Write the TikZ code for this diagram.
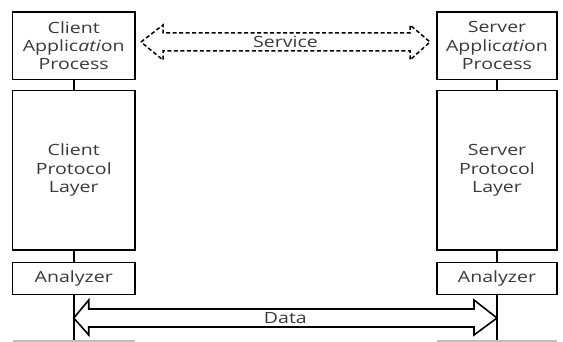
\documentclass[tikz,border=0pt]{standalone}
\usepackage{fontspec}
\setmainfont{Open Sans}[FakeStretch=1.26]
\usetikzlibrary{calc}
\definecolor{txt}{HTML}{3A3A3A}
\begin{document}
\begin{tikzpicture}[x=1pt,y=-1pt,
  box/.style={draw, line width=1.8pt, fill=white, text=txt, align=center,
    inner sep=0pt, font=\fontsize{15.5}{18.3}\selectfont},
  link/.style={line width=1.5pt},
  lbl/.style={text=txt, inner sep=1pt, font=\fontsize{15.5}{18.3}\selectfont},
  fatarrow/.style={line width=1.6pt, line join=miter},
  dasharrow/.style={line width=1.5pt, dash pattern=on 4pt off 2.5pt, line join=miter},
  cut/.style={draw=black!25, line width=1.4pt}]
\useasboundingbox (0,0) rectangle (563,342);

% client column
\node[box, minimum width=122.5pt, minimum height=67.5pt] (capp) at (73.75,45.75)
  {Client\\Applic\textit{ati}on\\Process};
\node[box, minimum width=122.5pt, minimum height=159.5pt] (cpro) at (73.75,170.25)
  {Client\\Protocol\\Layer};
\node[box, minimum width=122.5pt, minimum height=32pt] (cana) at (73.75,278.5)
  {Analyzer};

% server column
\node[box, minimum width=120.5pt, minimum height=67.5pt] (sapp) at (497,45.75)
  {Server\\Applic\textit{ati}on\\Process};
\node[box, minimum width=120.5pt, minimum height=159.5pt] (spro) at (497,170.25)
  {Server\\Protocol\\Layer};
\node[box, minimum width=120.5pt, minimum height=32pt] (sana) at (497,278.5)
  {Analyzer};

% vertical links
\draw[link] (capp.south) -- (cpro.north);
\draw[link] (cpro.south) -- (cana.north);
\draw[link] (sapp.south) -- (spro.north);
\draw[link] (spro.south) -- (sana.north);
\coordinate (cend) at (cana.south |- 0,342);
\coordinate (send) at (sana.south |- 0,342);
\draw[link] (cana.south) -- (cend);
\draw[link] (sana.south) -- (send);

% edges of the boxes below
\draw[cut] (12.5,341) -- (135,341);
\draw[cut] (436.75,341) -- (557.25,341);

% data arrow between the two lines
\coordinate (dL) at (cana.south |- 0,318);
\coordinate (dR) at (sana.south |- 0,318);
\draw[fatarrow] (dL) -- ++(15,-18) -- ++(0,9) -- ($(dR)+(-23,-9)$) -- ++(0,-9)
  -- (dR) -- ++(-23,17) -- ++(0,-8) -- ($(dL)+(15,9)$) -- ++(0,8) -- cycle;
\node[lbl] (data) at ($(dL)!0.5!(dR)$) {Data};

% service arrow between the application processes
\coordinate (sL) at (141,42);
\coordinate (sR) at (430,42);
\draw[dasharrow] (sL) -- ++(22,-17) -- ++(0,8) -- ($(sR)+(-20,-9)$) -- ++(0,-8)
  -- (sR) -- ++(-20,18) -- ++(0,-9) -- ($(sL)+(22,9)$) -- ++(0,9) -- cycle;
\node[lbl] (service) at ($(sL)!0.5!(sR)$) {Service};
\end{tikzpicture}
\end{document}
